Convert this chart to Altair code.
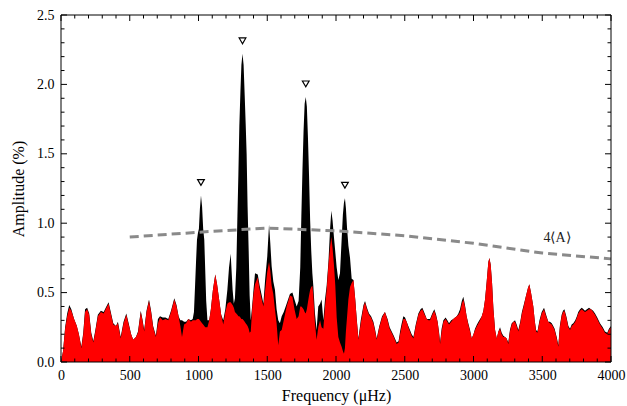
import altair as alt
import pandas as pd

# Amplitude spectrum: frequency knots (µHz), original spectrum and prewhitened residuals (%)
freq = [
    0, 15, 30, 45, 60, 75, 95, 115, 130, 148, 162, 175, 190, 205, 220, 235, 250, 268, 290, 310,
    330, 346, 362, 380, 400, 414, 434, 455, 475, 492, 510, 525, 545, 560, 580, 592, 605, 622, 640, 655,
    670, 690, 705, 720, 740, 760, 780, 800, 824, 840, 855, 868, 880, 895, 910, 926, 945, 958, 967, 975,
    982, 989, 996, 1003, 1010, 1018, 1026, 1034, 1042, 1049, 1056, 1065, 1078, 1090, 1105, 1122, 1135, 1150, 1165, 1180,
    1195, 1210, 1222, 1234, 1248, 1257, 1265, 1275, 1283, 1290, 1297, 1305, 1312, 1320, 1328, 1336, 1343, 1350, 1357, 1365,
    1372, 1380, 1390, 1400, 1411, 1431, 1445, 1460, 1472, 1485, 1500, 1513, 1522, 1532, 1544, 1556, 1568, 1580, 1592, 1605,
    1620, 1641, 1665, 1683, 1698, 1714, 1728, 1740, 1748, 1756, 1764, 1772, 1780, 1788, 1796, 1804, 1812, 1820, 1828, 1835,
    1847, 1859, 1871, 1884, 1895, 1908, 1920, 1932, 1945, 1957, 1966, 1975, 1985, 1995, 2005, 2017, 2029, 2041, 2050, 2058,
    2065, 2072, 2080, 2090, 2102, 2114, 2127, 2140, 2151, 2163, 2180, 2200, 2211, 2225, 2240, 2255, 2272, 2285, 2296, 2315,
    2335, 2356, 2375, 2390, 2405, 2420, 2441, 2455, 2466, 2478, 2490, 2502, 2514, 2526, 2538, 2550, 2563, 2580, 2599, 2615,
    2628, 2645, 2660, 2672, 2684, 2700, 2715, 2728, 2739, 2750, 2757, 2768, 2781, 2797, 2810, 2822, 2838, 2853, 2866, 2878,
    2890, 2902, 2915, 2926, 2938, 2950, 2962, 2975, 2987, 3000, 3011, 3025, 3036, 3048, 3060, 3072, 3084, 3096, 3108, 3116,
    3125, 3135, 3145, 3157, 3169, 3181, 3193, 3205, 3217, 3229, 3241, 3253, 3265, 3278, 3290, 3302, 3314, 3326, 3340, 3352,
    3365, 3380, 3395, 3406, 3418, 3435, 3445, 3455, 3465, 3480, 3496, 3513, 3528, 3544, 3556, 3569, 3580, 3590, 3605, 3617,
    3628, 3641, 3651, 3661, 3675, 3690, 3702, 3714, 3726, 3740, 3752, 3762, 3775, 3787, 3800, 3811, 3825, 3840, 3855, 3870,
    3884, 3900, 3920, 3940, 3956, 3973, 3985, 4000,
]

amp_original = [
    0.00, 0.08, 0.25, 0.35, 0.41, 0.38, 0.31, 0.26, 0.20, 0.11, 0.21, 0.38, 0.39, 0.35, 0.21, 0.15, 0.23, 0.34, 0.37, 0.36,
    0.40, 0.43, 0.36, 0.28, 0.26, 0.29, 0.18, 0.29, 0.35, 0.28, 0.20, 0.16, 0.18, 0.22, 0.37, 0.31, 0.23, 0.37, 0.45, 0.37,
    0.26, 0.19, 0.31, 0.33, 0.32, 0.32, 0.31, 0.37, 0.46, 0.41, 0.33, 0.30, 0.30, 0.29, 0.29, 0.31, 0.30, 0.31, 0.36, 0.55,
    0.72, 0.88, 0.93, 0.96, 1.10, 1.20, 1.12, 0.96, 0.88, 0.66, 0.44, 0.30, 0.30, 0.38, 0.52, 0.63, 0.56, 0.45, 0.34, 0.30,
    0.38, 0.52, 0.68, 0.78, 0.52, 0.42, 0.46, 0.68, 1.05, 1.35, 1.70, 1.95, 2.14, 2.22, 2.14, 1.92, 1.72, 1.50, 1.12, 0.80,
    0.48, 0.30, 0.40, 0.52, 0.64, 0.63, 0.55, 0.48, 0.42, 0.60, 0.76, 0.99, 0.86, 0.69, 0.58, 0.52, 0.38, 0.30, 0.28, 0.33,
    0.36, 0.42, 0.49, 0.50, 0.45, 0.40, 0.44, 0.68, 1.05, 1.38, 1.66, 1.86, 1.91, 1.84, 1.62, 1.34, 1.02, 0.80, 0.64, 0.55,
    0.35, 0.23, 0.40, 0.42, 0.45, 0.30, 0.45, 0.55, 0.72, 0.96, 1.09, 1.02, 0.90, 0.79, 0.68, 0.59, 0.64, 0.88, 1.06, 1.15,
    1.18, 1.11, 0.97, 0.84, 0.75, 0.60, 0.59, 0.45, 0.31, 0.17, 0.30, 0.41, 0.44, 0.39, 0.35, 0.33, 0.29, 0.23, 0.17, 0.26,
    0.33, 0.36, 0.31, 0.25, 0.22, 0.19, 0.14, 0.15, 0.22, 0.28, 0.33, 0.32, 0.29, 0.26, 0.23, 0.20, 0.18, 0.27, 0.35, 0.38,
    0.39, 0.35, 0.31, 0.31, 0.31, 0.35, 0.38, 0.34, 0.29, 0.21, 0.14, 0.24, 0.30, 0.32, 0.30, 0.28, 0.30, 0.31, 0.32, 0.33,
    0.35, 0.38, 0.44, 0.47, 0.41, 0.33, 0.28, 0.23, 0.17, 0.20, 0.24, 0.27, 0.29, 0.31, 0.33, 0.37, 0.45, 0.58, 0.72, 0.75,
    0.70, 0.57, 0.38, 0.23, 0.17, 0.22, 0.25, 0.21, 0.19, 0.18, 0.17, 0.14, 0.23, 0.28, 0.29, 0.30, 0.27, 0.23, 0.29, 0.36,
    0.41, 0.47, 0.53, 0.56, 0.50, 0.40, 0.30, 0.23, 0.22, 0.30, 0.36, 0.39, 0.34, 0.29, 0.29, 0.28, 0.26, 0.24, 0.18, 0.12,
    0.26, 0.34, 0.37, 0.38, 0.33, 0.26, 0.24, 0.27, 0.28, 0.30, 0.33, 0.36, 0.38, 0.39, 0.38, 0.37, 0.38, 0.39, 0.38, 0.37,
    0.35, 0.32, 0.28, 0.25, 0.22, 0.21, 0.24, 0.26,
]

amp_residual = [
    0.00, 0.08, 0.24, 0.33, 0.39, 0.37, 0.31, 0.26, 0.20, 0.10, 0.20, 0.36, 0.38, 0.34, 0.20, 0.14, 0.22, 0.33, 0.36, 0.35,
    0.39, 0.42, 0.35, 0.27, 0.26, 0.28, 0.17, 0.28, 0.34, 0.27, 0.20, 0.16, 0.18, 0.21, 0.36, 0.30, 0.22, 0.36, 0.44, 0.36,
    0.25, 0.18, 0.28, 0.32, 0.30, 0.31, 0.30, 0.36, 0.45, 0.40, 0.33, 0.26, 0.18, 0.27, 0.28, 0.31, 0.29, 0.30, 0.30, 0.30,
    0.30, 0.31, 0.31, 0.31, 0.30, 0.29, 0.28, 0.27, 0.26, 0.25, 0.25, 0.25, 0.30, 0.38, 0.52, 0.63, 0.56, 0.45, 0.34, 0.27,
    0.36, 0.42, 0.43, 0.43, 0.41, 0.39, 0.36, 0.35, 0.34, 0.33, 0.33, 0.32, 0.31, 0.31, 0.30, 0.29, 0.28, 0.27, 0.26, 0.24,
    0.21, 0.22, 0.38, 0.49, 0.56, 0.61, 0.52, 0.45, 0.40, 0.52, 0.65, 0.72, 0.66, 0.55, 0.49, 0.38, 0.28, 0.12, 0.22, 0.23,
    0.30, 0.40, 0.48, 0.47, 0.38, 0.31, 0.33, 0.40, 0.40, 0.39, 0.38, 0.36, 0.35, 0.38, 0.43, 0.48, 0.52, 0.54, 0.55, 0.48,
    0.28, 0.16, 0.25, 0.30, 0.25, 0.24, 0.40, 0.52, 0.70, 0.83, 0.90, 0.82, 0.70, 0.55, 0.32, 0.18, 0.14, 0.11, 0.08, 0.06,
    0.10, 0.22, 0.32, 0.45, 0.54, 0.57, 0.59, 0.45, 0.30, 0.16, 0.28, 0.40, 0.43, 0.38, 0.34, 0.32, 0.28, 0.22, 0.16, 0.25,
    0.32, 0.36, 0.30, 0.24, 0.21, 0.18, 0.13, 0.14, 0.20, 0.26, 0.31, 0.31, 0.29, 0.25, 0.22, 0.19, 0.17, 0.26, 0.34, 0.37,
    0.38, 0.34, 0.31, 0.30, 0.30, 0.34, 0.37, 0.33, 0.29, 0.20, 0.13, 0.22, 0.29, 0.31, 0.29, 0.27, 0.29, 0.31, 0.32, 0.33,
    0.34, 0.36, 0.42, 0.45, 0.40, 0.33, 0.27, 0.22, 0.17, 0.20, 0.23, 0.26, 0.28, 0.30, 0.33, 0.37, 0.45, 0.58, 0.72, 0.75,
    0.70, 0.57, 0.38, 0.23, 0.17, 0.22, 0.24, 0.20, 0.18, 0.18, 0.17, 0.13, 0.22, 0.27, 0.29, 0.29, 0.26, 0.22, 0.28, 0.35,
    0.40, 0.47, 0.53, 0.56, 0.50, 0.40, 0.30, 0.22, 0.21, 0.29, 0.35, 0.38, 0.33, 0.29, 0.28, 0.27, 0.25, 0.23, 0.17, 0.11,
    0.25, 0.33, 0.36, 0.37, 0.32, 0.25, 0.23, 0.26, 0.27, 0.29, 0.32, 0.35, 0.37, 0.38, 0.37, 0.36, 0.37, 0.38, 0.38, 0.36,
    0.34, 0.31, 0.27, 0.24, 0.21, 0.20, 0.23, 0.25,
]

# Four times the mean residual amplitude (significance threshold)
thr_freq = [500, 1000, 1500, 2000, 2500, 3000, 3500, 4000]
thr_amp = [0.900, 0.935, 0.965, 0.945, 0.910, 0.855, 0.785, 0.743]

# Extracted frequencies (marked with triangles above their peaks)
peak_freq = [1018, 1320, 1780, 2065]
peak_amp = [1.20, 2.22, 1.91, 1.18]

# Tick positions
x_major = [0, 500, 1000, 1500, 2000, 2500, 3000, 3500, 4000]
x_minor = [f for f in range(100, 4000, 100) if f % 500 != 0]
y_major = [0.0, 0.5, 1.0, 1.5, 2.0, 2.5]
y_minor = [round(0.1 * k, 1) for k in range(1, 25) if k % 5 != 0]

W, H = 550, 347
FONT = "Liberation Serif"

spec = pd.DataFrame({"freq": freq, "orig": amp_original, "resid": amp_residual})
thr = pd.DataFrame({"freq": thr_freq, "amp": thr_amp})
peaks = pd.DataFrame({"freq": peak_freq, "amp": peak_amp})
label = pd.DataFrame({"freq": [3607], "amp": [0.89], "text": ["4⟨A⟩"]})

xs = alt.Scale(domain=[0, 4000], nice=False, zero=False)
ys = alt.Scale(domain=[0, 2.5], nice=False)

x_axis = alt.Axis(
    title="Frequency (μHz)", values=x_major, format="d", ticks=False, domain=False,
    grid=False, labelPadding=6, titlePadding=5, labelFlush=False,
)
y_axis = alt.Axis(
    title="Amplitude (%)", values=y_major, format=".1f", ticks=False, domain=False,
    grid=False, labelPadding=7, titlePadding=10, labelFlush=False,
)

X = lambda f: alt.X(f, type="quantitative", scale=xs, axis=x_axis)
Y = lambda f: alt.Y(f, type="quantitative", scale=ys, axis=y_axis)

original = alt.Chart(spec).mark_area(color="black", interpolate="linear", clip=True).encode(
    x=X("freq"), y=Y("orig")
)
residual = alt.Chart(spec).mark_area(color="#ff0000", interpolate="linear", clip=True).encode(
    x=X("freq"), y=Y("resid")
)
threshold = alt.Chart(thr).mark_line(color="#8a8a8a", strokeWidth=3, strokeDash=[9, 5]).encode(
    x=X("freq"), y=Y("amp")
)
markers = alt.Chart(peaks).mark_point(
    shape="triangle-down", size=45, filled=True, fill="white", stroke="black",
    strokeWidth=1.2, opacity=1, yOffset=-13,
).encode(x=X("freq"), y=Y("amp"))
thr_label = alt.Chart(label).mark_text(font=FONT, fontSize=14, color="#222222").encode(
    x=X("freq"), y=Y("amp"), text="text:N"
)


def xticks(values, length):
    df = pd.DataFrame({"v": values})
    base = alt.Chart(df).mark_rule(color="black", strokeWidth=1)
    bottom = base.encode(x=X("v"), y=alt.value(H), y2=alt.value(H - length))
    top = base.encode(x=X("v"), y=alt.value(0), y2=alt.value(length))
    return bottom + top


def yticks(values, length):
    df = pd.DataFrame({"v": values})
    base = alt.Chart(df).mark_rule(color="black", strokeWidth=1)
    left = base.encode(y=Y("v"), x=alt.value(0), x2=alt.value(length))
    right = base.encode(y=Y("v"), x=alt.value(W), x2=alt.value(W - length))
    return left + right


frame = alt.Chart(alt.Data(values=[{}])).mark_rect(
    filled=False, color="black", strokeWidth=1
).encode(x=alt.value(0), x2=alt.value(W), y=alt.value(0), y2=alt.value(H))

chart = alt.layer(
    original, residual, threshold, markers, thr_label,
    xticks(x_major, 6), xticks(x_minor, 3.5), yticks(y_major, 6), yticks(y_minor, 3.5),
    frame,
).properties(
    width=W, height=H, autosize="none", background="white",
    padding={"left": 61, "top": 15, "right": 16, "bottom": 44},
).configure_view(stroke=None).configure_axis(
    labelFont=FONT, titleFont=FONT, labelFontSize=14, titleFontSize=16,
    labelColor="black", titleColor="black", titleFontWeight="normal",
)

chart.save("out.html", embed_options={"renderer": "svg", "actions": False})
